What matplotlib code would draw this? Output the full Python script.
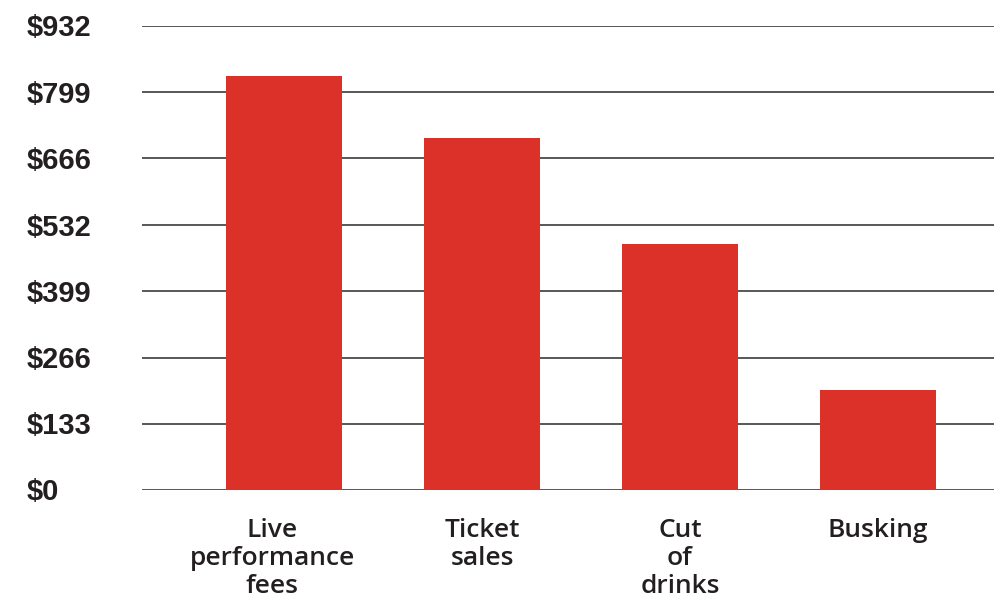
import matplotlib
matplotlib.use("Agg")
import matplotlib.pyplot as plt
from matplotlib.transforms import ScaledTranslation

categories = ["Live\nperformance\nfees", "Ticket\nsales", "Cut\nof\ndrinks", "Busking"]
values = [831, 707, 494, 201]
y_max = 932
tick_values = [0, 133, 266, 399, 532, 666, 799, 932]
tick_labels = ["$0", "$133", "$266", "$399", "$532", "$666", "$799", "$932"]

fig = plt.figure(figsize=(9.94, 5.97), dpi=100)
ax = fig.add_axes([142 / 994, 107 / 597, 1 - 142 / 994, 464 / 597])

x = list(range(len(categories)))
ax.bar(x, values, width=116 / 198, color="#dc3128", zorder=3)

ax.set_ylim(0, y_max)
ax.set_xlim(-142 / 198, (994 - 284) / 198)
for t in tick_values:
    ax.axhline(t, color="#4a4a4a", lw=1.3, zorder=1)

for s in ax.spines.values():
    s.set_visible(False)
ax.set_xticks([])
ax.set_yticks([])

for t, lab in zip(tick_values, tick_labels):
    fig.text(27 / 994, (ax.transData.transform((0, t))[1] - 2.5) / 597, lab,
             ha="left", va="center", fontsize=21, fontweight="bold",
             family="Liberation Sans", color="#231f20")

# the long first label sits a little left of its bar
label_shift = [-12, 0, 0, 0]
for xi, lab, dx in zip(x, categories, label_shift):
    tr = ax.transData + ScaledTranslation(dx / 100, 0, fig.dpi_scale_trans)
    ax.text(xi, -56, lab, ha="center", va="top", fontsize=19,
            fontweight="semibold", family="Open Sans", color="#231f20",
            linespacing=1.17, clip_on=False, transform=tr)

fig.savefig("out.png", dpi=100)
